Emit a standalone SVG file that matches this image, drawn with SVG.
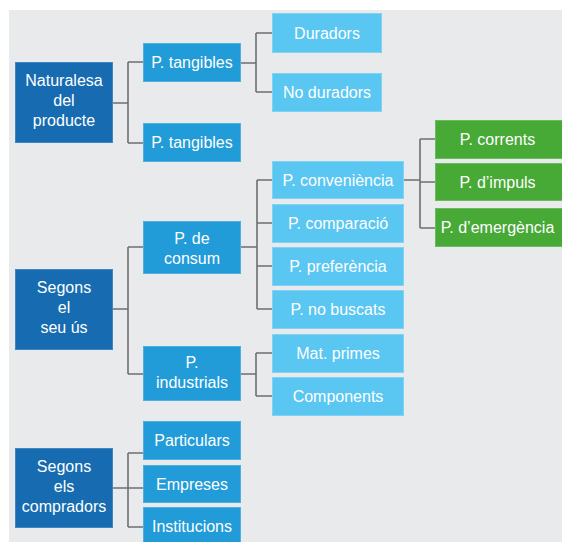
<svg xmlns="http://www.w3.org/2000/svg" width="562" height="542" viewBox="0 0 562 542">
<style>
  .bg { fill: #e9eaec; }
  .dark { fill: #176cb1; stroke: #3f86c2; stroke-width: 1; }
  .mid { fill: #219cd8; stroke: #4cb0e0; stroke-width: 1; }
  .light { fill: #5ac6f2; stroke: #80d3f4; stroke-width: 1; }
  .green { fill: #47a936; stroke: #6cba5d; stroke-width: 1; }
  .t { font-family: "Liberation Sans", Arial, sans-serif; font-size: 16px; fill: #ffffff; text-anchor: middle; }
  .c { fill: none; stroke: #6e6f71; stroke-width: 1.6; }
</style>
<rect x="0" y="0" width="562" height="542" fill="#ffffff"/>
<rect class="bg" x="9" y="10" width="553" height="532"/>

<g id="connectors">
  <path class="c" d="M113 103 H128 M128 62 V143 M128 62 H143 M128 143 H143"/>
  <path class="c" d="M241 63 H256 M256 33 V92 M256 33 H272 M256 92 H272"/>
  <path class="c" d="M113 309 H128 M128 247 V374 M128 247 H143 M128 374 H143"/>
  <path class="c" d="M241 247 H257 M257 180 V309 M257 180 H272 M257 223 H272 M257 266 H272 M257 309 H272"/>
  <path class="c" d="M404 180 H420 M420 139 V228 M420 139 H435 M420 182 H435 M420 228 H435"/>
  <path class="c" d="M241 374 H256 M256 353 V396 M256 353 H272 M256 396 H272"/>
  <path class="c" d="M113 488 H128 M128 453 V527 M128 453 H143 M128 488 H143 M128 527 H143"/>
</g>

<g id="n-naturalesa">
  <rect class="dark" x="15.5" y="62.5" width="97" height="80"/>
  <text class="t" x="64" y="86">Naturalesa</text>
  <text class="t" x="64" y="106">del</text>
  <text class="t" x="64" y="125.5">producte</text>
</g>
<g id="n-segons-us">
  <rect class="dark" x="15.5" y="269.5" width="97" height="80"/>
  <text class="t" x="64" y="293">Segons</text>
  <text class="t" x="64" y="313">el</text>
  <text class="t" x="64" y="332.5">seu ús</text>
</g>
<g id="n-segons-compradors">
  <rect class="dark" x="15.5" y="448.5" width="97" height="79"/>
  <text class="t" x="64" y="472">Segons</text>
  <text class="t" x="64" y="492">els</text>
  <text class="t" x="64" y="512">compradors</text>
</g>

<g id="n-tangibles-1">
  <rect class="mid" x="143.5" y="43.5" width="97" height="38"/>
  <text class="t" x="192" y="68">P. tangibles</text>
</g>
<g id="n-tangibles-2">
  <rect class="mid" x="143.5" y="123.5" width="97" height="38"/>
  <text class="t" x="192" y="148">P. tangibles</text>
</g>
<g id="n-consum">
  <rect class="mid" x="143.5" y="221.5" width="97" height="52"/>
  <text class="t" x="192" y="244">P. de</text>
  <text class="t" x="192" y="264">consum</text>
</g>
<g id="n-industrials">
  <rect class="mid" x="143.5" y="346.5" width="97" height="54"/>
  <text class="t" x="192" y="368">P.</text>
  <text class="t" x="192" y="388">industrials</text>
</g>
<g id="n-particulars">
  <rect class="mid" x="143.5" y="421.5" width="97" height="38"/>
  <text class="t" x="192" y="446">Particulars</text>
</g>
<g id="n-empreses">
  <rect class="mid" x="143.5" y="465.5" width="97" height="37"/>
  <text class="t" x="192" y="489.5">Empreses</text>
</g>
<g id="n-institucions">
  <rect class="mid" x="143.5" y="507.5" width="97" height="40"/>
  <text class="t" x="192" y="532">Institucions</text>
</g>

<g id="n-duradors">
  <rect class="light" x="272.5" y="13.5" width="109" height="39"/>
  <text class="t" x="327" y="38.5">Duradors</text>
</g>
<g id="n-no-duradors">
  <rect class="light" x="272.5" y="73.5" width="109" height="38"/>
  <text class="t" x="327" y="98">No duradors</text>
</g>
<g id="n-conveniencia">
  <rect class="light" x="272.5" y="161.5" width="131" height="37"/>
  <text class="t" x="338" y="185.5">P. conveniència</text>
</g>
<g id="n-comparacio">
  <rect class="light" x="272.5" y="204.5" width="131" height="38"/>
  <text class="t" x="338" y="229">P. comparació</text>
</g>
<g id="n-preferencia">
  <rect class="light" x="272.5" y="247.5" width="131" height="38"/>
  <text class="t" x="338" y="272">P. preferència</text>
</g>
<g id="n-no-buscats">
  <rect class="light" x="272.5" y="290.5" width="131" height="38"/>
  <text class="t" x="338" y="315">P. no buscats</text>
</g>
<g id="n-mat-primes">
  <rect class="light" x="272.5" y="334.5" width="131" height="38"/>
  <text class="t" x="338" y="359">Mat. primes</text>
</g>
<g id="n-components">
  <rect class="light" x="272.5" y="377.5" width="131" height="38"/>
  <text class="t" x="338" y="402">Components</text>
</g>

<g id="n-corrents">
  <rect class="green" x="435.5" y="120.5" width="128" height="38"/>
  <text class="t" x="497.5" y="145">P. corrents</text>
</g>
<g id="n-impuls">
  <rect class="green" x="435.5" y="163.5" width="128" height="37"/>
  <text class="t" x="497.5" y="187.5">P. d’impuls</text>
</g>
<g id="n-emergencia">
  <rect class="green" x="435.5" y="208.5" width="128" height="38"/>
  <text class="t" x="497.5" y="233">P. d’emergència</text>
</g>
</svg>
